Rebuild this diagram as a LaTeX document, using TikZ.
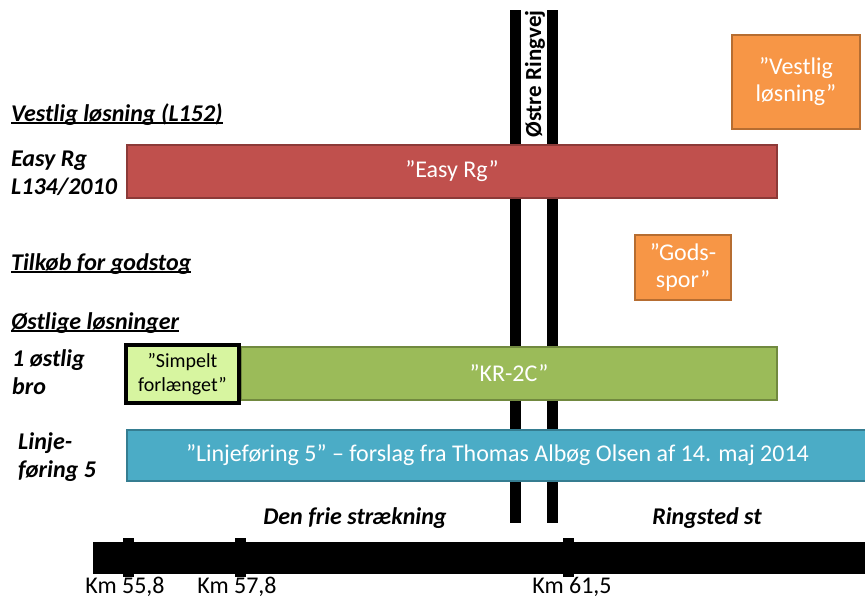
\documentclass[tikz,border=0pt]{standalone}
\usepackage{fontspec}
\setmainfont{Carlito}
\usetikzlibrary{positioning}
\definecolor{easyred}{HTML}{C0504D}
\definecolor{easyline}{HTML}{8C3A38}
\definecolor{vestorange}{HTML}{F79646}
\definecolor{vestline}{HTML}{B66D31}
\definecolor{krgreen}{HTML}{9BBB59}
\definecolor{krline}{HTML}{71893F}
\definecolor{simpelgreen}{HTML}{D7F5A0}
\definecolor{linjeblue}{HTML}{4BACC6}
\definecolor{linjeline}{HTML}{357D91}
\newcommand\undertext[1]{\setbox0\hbox{#1}\rlap{\rule[-2.5pt]{\wd0}{1.4pt}}\box0}

\begin{document}
\begin{tikzpicture}[
  x=1pt,y=-1pt,
  every node/.style={inner sep=0pt,align=center},
  road/.style={fill=black,minimum width=11pt,minimum height=513pt},
  bar/.style={line width=2pt,text=white,font=\fontsize{24}{27}\selectfont},
  easybar/.style={bar,draw=easyline,fill=easyred},
  orangebox/.style={bar,draw=vestline,fill=vestorange},
  krbar/.style={bar,draw=krline,fill=krgreen},
  linjebar/.style={bar,draw=linjeline,fill=linjeblue},
  simpelbox/.style={draw=black,line width=4pt,fill=simpelgreen,font=\fontsize{20}{24}\selectfont},
  rowlabel/.style={anchor=base west,align=left,font=\fontsize{24}{28}\selectfont\bfseries\itshape},
  stretchlabel/.style={anchor=base,font=\fontsize{24}{28}\selectfont\bfseries\itshape},
  tick/.style={fill=black,minimum width=11pt,minimum height=39pt},
  kmlabel/.style={font=\fontsize{24}{26}\selectfont}
]
\useasboundingbox (0,0) rectangle (865,600);
% Østre Ringvej
\node[road] (roadw) at (515.5,266.5) {};
\node[road] (roade) at (552.5,266.5) {};
\node[rotate=90,font=\fontsize{23}{26}\selectfont\bfseries] (ringvej) at (535,74) {Østre Ringvej};

% row labels (base = last line)
\node[rowlabel] (vestlig) at (11,121) {\undertext{Vestlig løsning (L152)}};
\node[rowlabel] (easylbl) at (11,194) {Easy Rg\\L134/2010};
\node[rowlabel] (tilkob) at (11,270) {\undertext{Tilkøb for godstog}};
\node[rowlabel] (ostlige) at (11,329) {\undertext{Østlige løsninger}};
\node[rowlabel] (brolbl) at (12,394) {1 østlig\\bro};
\node[rowlabel] (linjelbl) at (18,477) {Linje-\\føring 5};

% solutions
\node[orangebox,minimum width=128pt,minimum height=94pt] (vestbox) at (796,82) {”Vestlig\\løsning”};
\node[easybar,minimum width=650pt,minimum height=53pt] (easyrg) at (452,171.5) {”Easy Rg”};
\node[orangebox,minimum width=96pt,minimum height=65pt] (gods) at (683,267.5) {”Gods-\\spor”};
\node[krbar,minimum width=536pt,minimum height=53pt] (kr2c) at (509,373.5) {”KR-2C”};
\node[simpelbox,minimum width=113pt,minimum height=58pt] (simpel) at (182.5,374) {”Simpelt\\forlænget”};
\node[linjebar,minimum width=741pt,minimum height=51pt] (linje5) at (497.5,455.5) {”Linjeføring 5” -- forslag fra Thomas Albøg Olsen af 14. maj 2014};

% strækning
\node[stretchlabel] (frie) at (355,524) {Den frie strækning};
\node[stretchlabel] (ringsted) at (707,524) {Ringsted st};
\node[fill=black,minimum width=775pt,minimum height=32pt] (track) at (480.5,557.5) {};
\node[tick] (km558) at (128,557) {};
\node[tick] (km578) at (240,557) {};
\node[tick] (km615) at (568,557) {};
\node[kmlabel,below=0.5pt of km558,xshift=-3pt] (lbl558) {Km 55,8};
\node[kmlabel,below=0.5pt of km578,xshift=-3pt] (lbl578) {Km 57,8};
\node[kmlabel,below=0.5pt of km615,xshift=4pt] (lbl615) {Km 61,5};
\end{tikzpicture}
\end{document}
